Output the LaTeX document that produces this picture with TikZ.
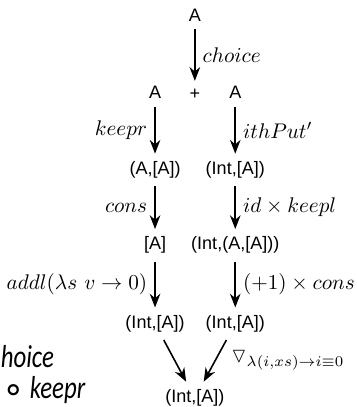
\documentclass[tikz,border=0pt]{standalone}
\usepackage{amsmath}
\usepackage{amssymb}
\usepackage{fontspec}
\setsansfont{Liberation Sans}
\newfontfamily\notefont{Carlito}
\newfontfamily\symfont{DejaVu Sans}
\usetikzlibrary{arrows.meta}

\begin{document}
\begin{tikzpicture}[>={Stealth[length=6.5pt,width=5pt]}, line width=0.75pt]
  \tikzstyle{obj}=[font=\sffamily\fontsize{8.5}{10}\selectfont]
  \tikzstyle{note}=[anchor=base west, inner sep=0pt,
    font=\notefont\itshape\fontsize{15}{17}\selectfont]
  \useasboundingbox (0,0) rectangle (5.918,6.747);

  % top object and the sum
  \node[obj] (a)    at (3.23, 6.50) {A};
  \node[obj] (al)   at (2.57, 5.21) {A};
  \node[obj] (plus) at (3.23, 5.19) {+};
  \node[obj] (ar)   at (3.90, 5.21) {A};

  % left column
  \node[obj] (pair) at (2.57, 3.93) {(A,[A])};
  \node[obj] (list) at (2.57, 2.68) {[A]};
  \node[obj] (cntl) at (2.57, 1.38) {(Int,[A])};

  % right column
  \node[obj] (idx)  at (3.90, 3.93) {(Int,[A])};
  \node[obj] (idxp) at (3.90, 2.68) {(Int,(A,[A]))};
  \node[obj] (cntr) at (3.90, 1.38) {(Int,[A])};

  % result
  \node[obj] (res)  at (3.23, 0.15) {(Int,[A])};

  % side note
  \node[note] (note1) at (0.00, 0.663) {\scalebox{0.78}[1]{hoice}};
  \node[note] (note2) at (0.02, 0.149)
    {\raisebox{-1.5pt}{\symfont\fontsize{17}{17}\selectfont ∘}\,\scalebox{0.78}[1]{keepr}};

  \draw[->] (a) -- node[right] {$choice$} (plus);

  \draw[->] (al) -- node[left] {$keepr$} (pair);
  \draw[->] (pair) -- node[left] {$cons$} (list);
  \draw[->] (list) -- node[left] {$addl(\lambda s\ v \rightarrow 0)$} (cntl);

  \draw[->] (ar) -- node[right] {$ithPut'$} (idx);
  \draw[->] (idx) -- node[right] {$id \times keepl$} (idxp);
  \draw[->] (idxp) -- node[right] {$(+1) \times cons$} (cntr);

  \draw[->] (cntl) -- (res);
  \draw[->] (cntr) -- node[right=4pt] {$\triangledown_{\lambda(i,xs)\rightarrow i\equiv 0}$} (res);
\end{tikzpicture}
\end{document}
